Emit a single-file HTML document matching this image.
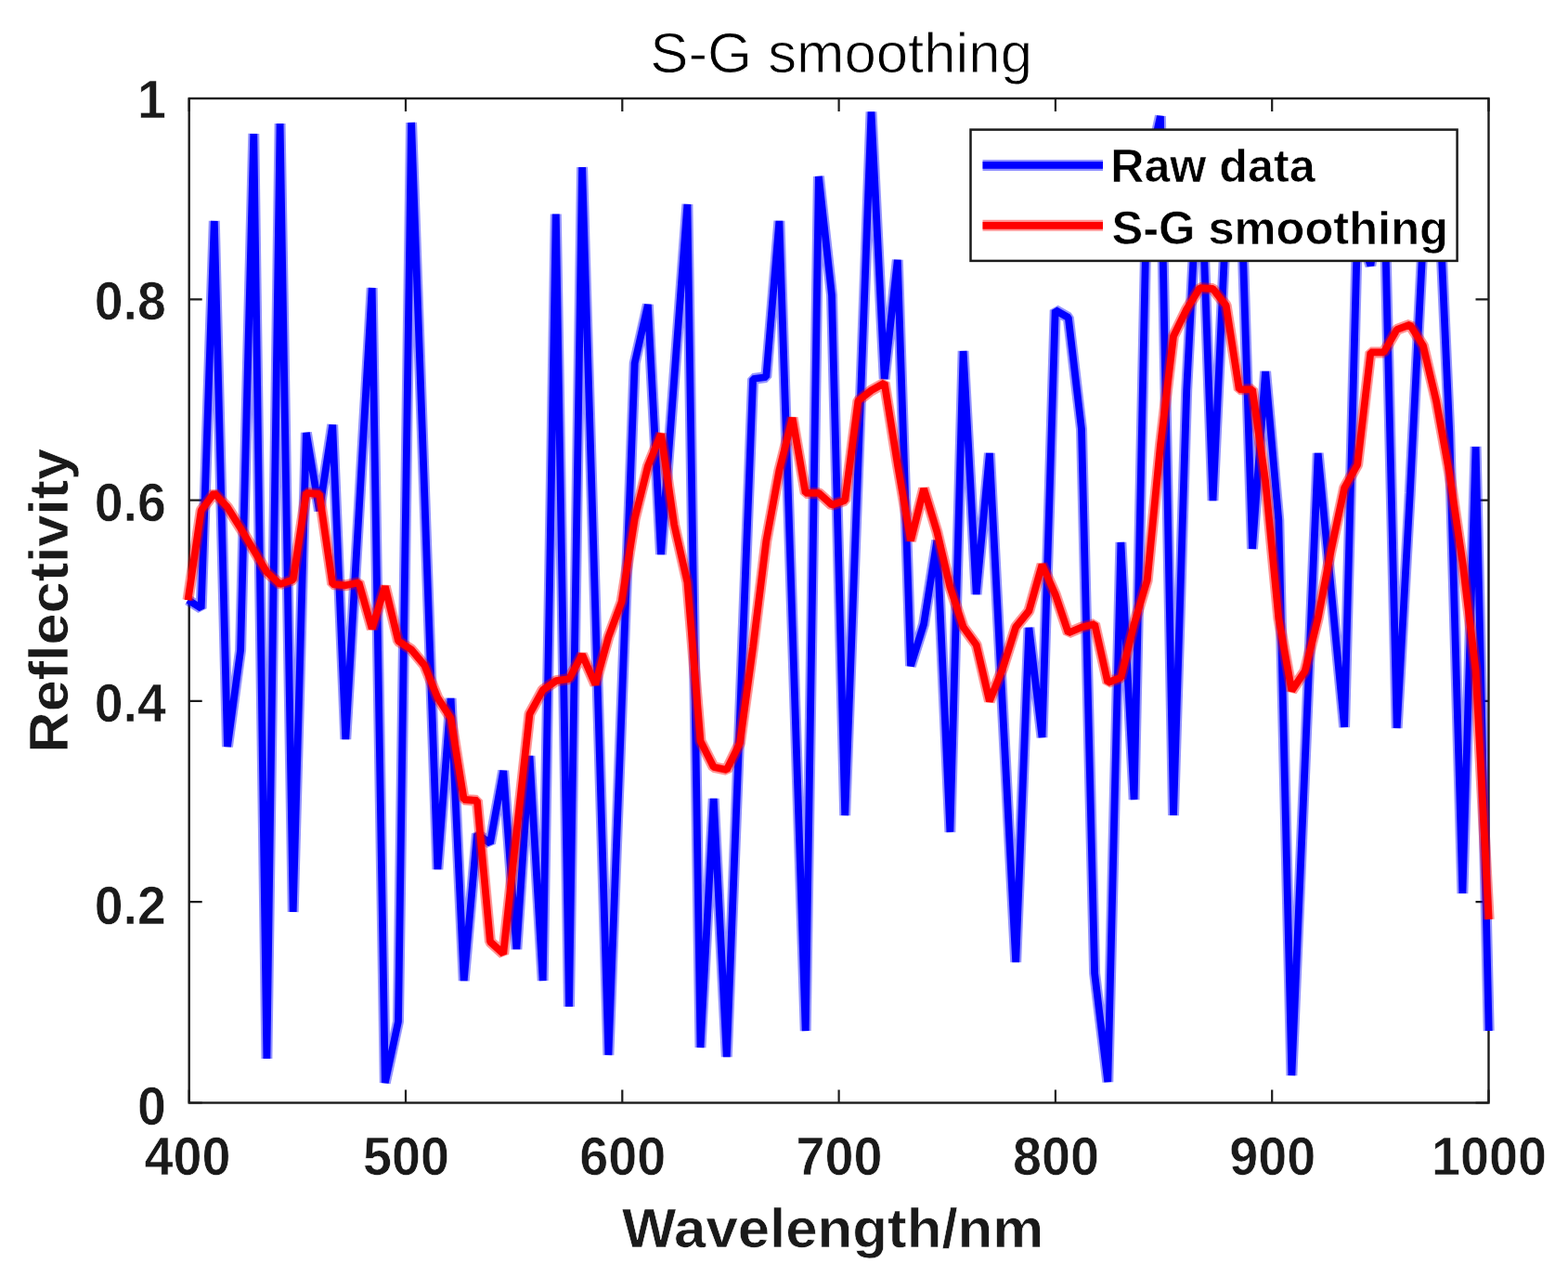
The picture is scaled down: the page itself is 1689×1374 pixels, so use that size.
<!DOCTYPE html>
<html><head><meta charset="utf-8"><title>S-G smoothing</title>
<style>html,body{margin:0;padding:0;background:#fff;overflow:hidden}svg{display:block}</style>
</head><body>
<svg xmlns="http://www.w3.org/2000/svg" width="1689" height="1374" viewBox="0 0 1689 1374">
<rect width="1689" height="1374" fill="#fff"/>

<path d="M203.70 1187.50V1173.50M203.70 106.00V120.00M437.00 1187.50V1173.50M437.00 106.00V120.00M670.30 1187.50V1173.50M670.30 106.00V120.00M903.60 1187.50V1173.50M903.60 106.00V120.00M1136.90 1187.50V1173.50M1136.90 106.00V120.00M1370.20 1187.50V1173.50M1370.20 106.00V120.00M1603.50 1187.50V1173.50M1603.50 106.00V120.00M203.70 1187.50H217.70M1603.50 1187.50H1589.50M203.70 971.20H217.70M1603.50 971.20H1589.50M203.70 754.90H217.70M1603.50 754.90H1589.50M203.70 538.60H217.70M1603.50 538.60H1589.50M203.70 322.30H217.70M1603.50 322.30H1589.50M203.70 106.00H217.70M1603.50 106.00H1589.50" stroke="#1c1c1c" stroke-width="2.2" fill="none"/>
<rect x="203.7" y="106.0" width="1399.8" height="1081.5" fill="none" stroke="#1c1c1c" stroke-width="2.4"/>
<g fill="none" stroke-linejoin="bevel">
<polyline stroke="#0000ff" stroke-width="12" stroke-opacity="0.42" points="202.5,646.0 216.7,655.0 230.8,238.0 245.0,804.0 259.1,700.0 273.3,144.0 287.4,1140.0 301.6,133.0 315.7,982.0 329.9,466.0 344.0,550.0 358.2,457.5 372.3,796.0 386.5,553.0 400.7,310.0 414.8,1166.0 429.0,1100.0 443.1,132.0 457.3,534.0 471.4,936.0 485.6,752.0 499.7,1056.0 513.9,898.0 528.0,908.0 542.2,830.0 556.4,1022.0 570.5,814.0 584.7,1056.0 598.8,230.5 613.0,1084.0 627.1,180.0 641.3,658.0 655.4,1136.0 669.6,763.5 683.7,391.0 697.9,328.0 712.0,597.0 726.2,408.5 740.4,220.0 754.5,1128.0 768.7,860.0 782.8,1138.0 797.0,773.0 811.1,408.0 825.3,406.0 839.4,238.0 853.6,674.0 867.7,1110.0 881.9,190.0 896.0,318.0 910.2,878.0 924.4,499.2 938.5,120.5 952.7,408.0 966.8,280.0 981.0,717.0 995.1,672.0 1009.3,582.0 1023.4,896.0 1037.6,378.0 1051.7,640.0 1065.9,488.0 1080.0,762.0 1094.2,1036.0 1108.4,676.0 1122.5,794.0 1136.7,334.0 1150.8,342.0 1165.0,462.0 1179.1,1048.0 1193.3,1165.0 1207.4,584.0 1221.6,861.0 1235.7,190.0 1249.9,125.0 1264.0,878.0 1278.2,420.0 1292.4,145.0 1306.5,539.0 1320.7,236.0 1334.8,142.0 1349.0,591.0 1363.1,400.0 1377.3,560.0 1391.4,1158.0 1405.6,823.0 1419.7,488.0 1433.9,635.5 1448.1,783.0 1462.2,244.0 1476.4,286.0 1490.5,182.0 1504.7,784.0 1518.8,531.0 1533.0,255.0 1547.1,142.0 1561.3,466.0 1575.4,962.0 1589.6,481.0 1603.7,1110.0"/>
<polyline stroke="#0000ff" stroke-width="7.8" points="202.5,646.0 216.7,655.0 230.8,238.0 245.0,804.0 259.1,700.0 273.3,144.0 287.4,1140.0 301.6,133.0 315.7,982.0 329.9,466.0 344.0,550.0 358.2,457.5 372.3,796.0 386.5,553.0 400.7,310.0 414.8,1166.0 429.0,1100.0 443.1,132.0 457.3,534.0 471.4,936.0 485.6,752.0 499.7,1056.0 513.9,898.0 528.0,908.0 542.2,830.0 556.4,1022.0 570.5,814.0 584.7,1056.0 598.8,230.5 613.0,1084.0 627.1,180.0 641.3,658.0 655.4,1136.0 669.6,763.5 683.7,391.0 697.9,328.0 712.0,597.0 726.2,408.5 740.4,220.0 754.5,1128.0 768.7,860.0 782.8,1138.0 797.0,773.0 811.1,408.0 825.3,406.0 839.4,238.0 853.6,674.0 867.7,1110.0 881.9,190.0 896.0,318.0 910.2,878.0 924.4,499.2 938.5,120.5 952.7,408.0 966.8,280.0 981.0,717.0 995.1,672.0 1009.3,582.0 1023.4,896.0 1037.6,378.0 1051.7,640.0 1065.9,488.0 1080.0,762.0 1094.2,1036.0 1108.4,676.0 1122.5,794.0 1136.7,334.0 1150.8,342.0 1165.0,462.0 1179.1,1048.0 1193.3,1165.0 1207.4,584.0 1221.6,861.0 1235.7,190.0 1249.9,125.0 1264.0,878.0 1278.2,420.0 1292.4,145.0 1306.5,539.0 1320.7,236.0 1334.8,142.0 1349.0,591.0 1363.1,400.0 1377.3,560.0 1391.4,1158.0 1405.6,823.0 1419.7,488.0 1433.9,635.5 1448.1,783.0 1462.2,244.0 1476.4,286.0 1490.5,182.0 1504.7,784.0 1518.8,531.0 1533.0,255.0 1547.1,142.0 1561.3,466.0 1575.4,962.0 1589.6,481.0 1603.7,1110.0"/>
<polyline stroke="#ff0000" stroke-width="12" stroke-opacity="0.42" points="202.5,646.2 216.7,549.7 230.8,530.8 245.0,546.2 259.1,568.7 273.3,592.4 287.4,616.0 301.6,629.1 315.7,624.3 329.9,530.8 344.0,532.0 358.2,629.0 372.3,630.3 386.5,627.2 400.7,677.0 414.8,631.3 429.0,690.2 443.1,699.5 457.3,716.5 471.4,751.4 485.6,773.3 499.7,861.0 513.9,862.0 528.0,1014.0 542.2,1027.0 556.4,896.5 570.5,768.9 584.7,743.0 598.8,733.2 613.0,731.0 627.1,704.8 641.3,737.0 655.4,686.0 669.6,648.0 683.7,558.8 697.9,501.9 712.0,467.2 726.2,565.0 740.4,627.0 754.5,798.0 768.7,826.0 782.8,829.0 797.0,800.0 811.1,697.0 825.3,582.9 839.4,506.4 853.6,450.0 867.7,530.9 881.9,530.9 896.0,543.7 910.2,538.9 924.4,431.6 938.5,420.4 952.7,412.4 966.8,500.0 981.0,582.2 995.1,526.1 1009.3,572.5 1023.4,632.1 1037.6,675.3 1051.7,694.5 1065.9,755.0 1080.0,720.1 1094.2,675.3 1108.4,657.7 1122.5,608.0 1136.7,640.0 1150.8,681.5 1165.0,675.5 1179.1,672.0 1193.3,735.0 1207.4,729.6 1221.6,672.0 1235.7,625.0 1249.9,480.0 1264.0,362.0 1278.2,333.0 1292.4,310.1 1306.5,311.0 1320.7,329.0 1334.8,419.3 1349.0,419.3 1363.1,518.0 1377.3,665.7 1391.4,743.8 1405.6,722.7 1419.7,665.7 1433.9,591.9 1448.1,525.4 1462.2,500.4 1476.4,379.4 1490.5,379.4 1504.7,354.9 1518.8,349.7 1533.0,372.4 1547.1,432.0 1561.3,510.0 1575.4,605.0 1589.6,722.0 1603.7,990.0"/>
<polyline stroke="#ff0000" stroke-width="7.8" points="202.5,646.2 216.7,549.7 230.8,530.8 245.0,546.2 259.1,568.7 273.3,592.4 287.4,616.0 301.6,629.1 315.7,624.3 329.9,530.8 344.0,532.0 358.2,629.0 372.3,630.3 386.5,627.2 400.7,677.0 414.8,631.3 429.0,690.2 443.1,699.5 457.3,716.5 471.4,751.4 485.6,773.3 499.7,861.0 513.9,862.0 528.0,1014.0 542.2,1027.0 556.4,896.5 570.5,768.9 584.7,743.0 598.8,733.2 613.0,731.0 627.1,704.8 641.3,737.0 655.4,686.0 669.6,648.0 683.7,558.8 697.9,501.9 712.0,467.2 726.2,565.0 740.4,627.0 754.5,798.0 768.7,826.0 782.8,829.0 797.0,800.0 811.1,697.0 825.3,582.9 839.4,506.4 853.6,450.0 867.7,530.9 881.9,530.9 896.0,543.7 910.2,538.9 924.4,431.6 938.5,420.4 952.7,412.4 966.8,500.0 981.0,582.2 995.1,526.1 1009.3,572.5 1023.4,632.1 1037.6,675.3 1051.7,694.5 1065.9,755.0 1080.0,720.1 1094.2,675.3 1108.4,657.7 1122.5,608.0 1136.7,640.0 1150.8,681.5 1165.0,675.5 1179.1,672.0 1193.3,735.0 1207.4,729.6 1221.6,672.0 1235.7,625.0 1249.9,480.0 1264.0,362.0 1278.2,333.0 1292.4,310.1 1306.5,311.0 1320.7,329.0 1334.8,419.3 1349.0,419.3 1363.1,518.0 1377.3,665.7 1391.4,743.8 1405.6,722.7 1419.7,665.7 1433.9,591.9 1448.1,525.4 1462.2,500.4 1476.4,379.4 1490.5,379.4 1504.7,354.9 1518.8,349.7 1533.0,372.4 1547.1,432.0 1561.3,510.0 1575.4,605.0 1589.6,722.0 1603.7,990.0"/>
</g>
<g font-family="'Liberation Sans', Arial, sans-serif" font-weight="bold" fill="#1a1a1a" stroke="#fff" stroke-width="0.6">
<text transform="translate(202.00,1265.49) scale(0.9737,1)" font-size="57.27" text-anchor="middle">400</text><text transform="translate(437.50,1265.49) scale(0.9737,1)" font-size="57.27" text-anchor="middle">500</text><text transform="translate(670.80,1265.49) scale(0.9737,1)" font-size="57.27" text-anchor="middle">600</text><text transform="translate(904.10,1265.49) scale(0.9737,1)" font-size="57.27" text-anchor="middle">700</text><text transform="translate(1137.40,1265.49) scale(0.9737,1)" font-size="57.27" text-anchor="middle">800</text><text transform="translate(1370.70,1265.49) scale(0.9737,1)" font-size="57.27" text-anchor="middle">900</text><text transform="translate(1604.00,1265.49) scale(0.9737,1)" font-size="57.27" text-anchor="middle">1000</text>
<text transform="translate(178.90,1210.99) scale(0.9792,1)" font-size="56.71" text-anchor="end">0</text><text transform="translate(178.90,994.99) scale(0.9792,1)" font-size="56.71" text-anchor="end">0.2</text><text transform="translate(178.90,777.09) scale(0.9792,1)" font-size="56.71" text-anchor="end">0.4</text><text transform="translate(178.90,560.79) scale(0.9792,1)" font-size="56.71" text-anchor="end">0.6</text><text transform="translate(178.90,343.99) scale(0.9792,1)" font-size="56.71" text-anchor="end">0.8</text><text transform="translate(178.90,126.79) scale(0.9792,1)" font-size="56.71" text-anchor="end">1</text>
<text transform="translate(670.00,1342.57) scale(1.0500,1)" font-size="58.85">Wavelength/nm</text>
<text transform="translate(72.66,810.69) rotate(-90) scale(1.0276,1)" font-size="59.81">Reflectivity</text>
</g>
<g font-family="'Liberation Sans', Arial, sans-serif" fill="#000" stroke="#fff" stroke-width="0.9"><text transform="translate(700.22,78.19) scale(1.0017,1)" font-size="61.64">S-G smoothing</text></g>
<g>
<rect x="1045.5" y="139.6" width="524.1" height="141.3" fill="#fff" stroke="#1c1c1c" stroke-width="2.5"/>
<path d="M1058.5 177.9H1188" stroke="#0000ff" stroke-width="12" stroke-opacity="0.42"/><path d="M1058.5 177.9H1188" stroke="#0000ff" stroke-width="7.8"/>
<path d="M1058.5 242.8H1188" stroke="#ff0000" stroke-width="12" stroke-opacity="0.42"/><path d="M1058.5 242.8H1188" stroke="#ff0000" stroke-width="7.8"/>
<g font-family="'Liberation Sans', Arial, sans-serif" font-weight="bold" fill="#000" stroke="#fff" stroke-width="0.6">
<text transform="translate(1196.13,196.45) scale(1.0105,1)" font-size="49.72">Raw data</text>
<text transform="translate(1197.38,263.26) scale(1.0147,1)" font-size="49.88">S-G smoothing</text>
</g>
</g>
</svg>
</body></html>
